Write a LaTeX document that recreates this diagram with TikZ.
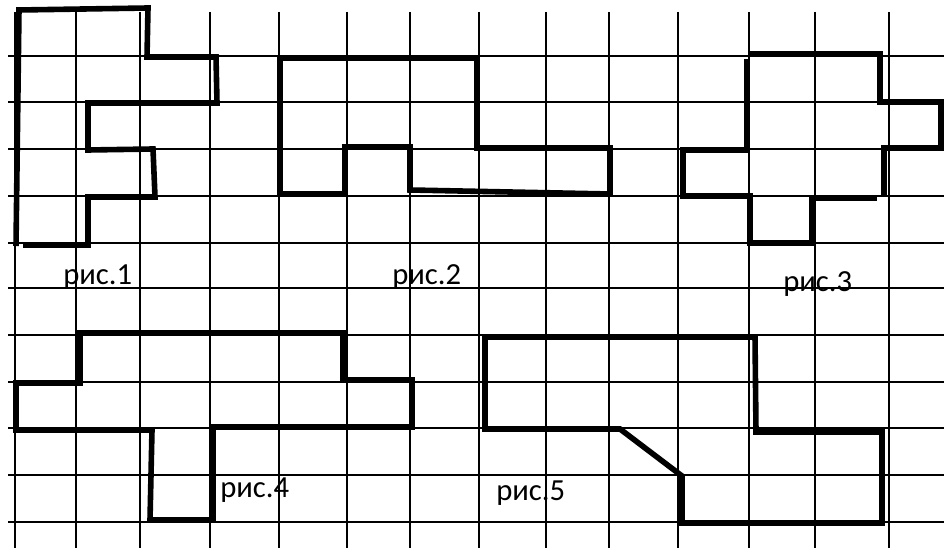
\documentclass[tikz,border=0pt]{standalone}
\usepackage{fontspec}
\setmainfont{Carlito}
\usepackage{tikz}
\usetikzlibrary{positioning,calc}
\tikzset{
  cell/.style={line width=1pt},
  figline/.style={line width=4.2pt, line join=miter},
  lbl/.style={anchor=base west, inner sep=0pt, font=\fontsize{23}{27}\selectfont}
}
\newcommand{\fignum}[3]{\node [lbl] (#1) at (#2) {рис.#3}}

\begin{document}
\begin{tikzpicture}[x=0.75pt, y=-0.75pt]
\useasboundingbox (0,0) rectangle (944,548);

\foreach \gx in {15,76,140,210,279,347,410,479,546,609,678,749,815,889}
  \draw[cell] (\gx,12) -- (\gx,548);
\foreach \gy in {56,102,149,196,243,288,335,382,428,475,522}
  \draw[cell] (8,\gy) -- (944,\gy);

\draw[figline] (16,246) -- (19,10) -- (148,8) -- (147,57) -- (216,57) -- (217,103)
  -- (88,103) -- (88,150) -- (153,149) -- (155,197) -- (88,197) -- (88,245) -- (23,245);
\draw[figline] (280,58) -- (477,58) -- (477,148) -- (610,148) -- (610,194) -- (410,190)
  -- (410,147) -- (345,147) -- (345,194) -- (280,194) -- cycle;
\draw[figline] (747,59) -- (747,150) -- (683,150) -- (683,196) -- (750,196) -- (750,243)
  -- (812,243) -- (812,198) -- (877,198);
\draw[figline] (884,195) -- (884,148) -- (941,148) -- (941,102) -- (880,102) -- (880,54) -- (748,54);
\draw[figline] (80,333) -- (343,333) -- (343,380) -- (412,380) -- (412,427) -- (213,427)
  -- (213,520) -- (150,520) -- (152,430) -- (16,430) -- (16,383) -- (80,383) -- cycle;
\draw[figline] (485,337) -- (755,337) -- (756,432) -- (882,432) -- (882,523) -- (682,523)
  -- (682,476) -- (620,429) -- (485,429) -- cycle;

\fignum{R1}{63,285}{1};
\fignum{R2}{392,285}{2};
\fignum{R3}{783,292}{3};
\fignum{R4}{220,497}{4};
\fignum{R5}{496,500}{5};

\end{tikzpicture}
\end{document}
